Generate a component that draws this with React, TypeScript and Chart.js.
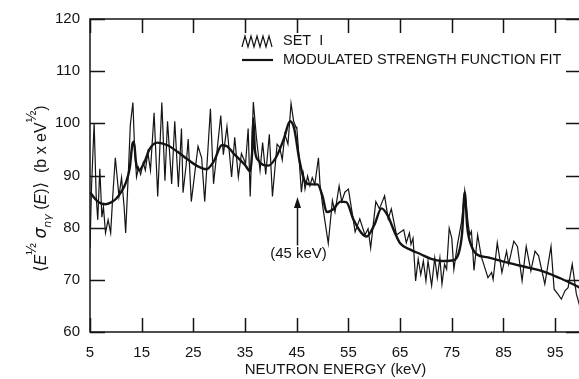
import React, { useEffect, useRef } from "react";
import { Chart, registerables } from "chart.js";

Chart.register(...registerables);

const xTicks = [5, 15, 25, 35, 45, 55, 65, 75, 85, 95];
const yTicks = [60, 70, 80, 90, 100, 110, 120];

const setKeV = [
  5.0, 5.3, 5.8, 6.2, 6.5, 6.9, 7.3, 7.6, 8.0, 8.5, 9.0, 9.4, 9.9, 10.6, 11.1, 11.6, 11.9, 12.4, 12.8, 13.3,
  13.6, 14.0, 14.4, 14.8, 15.3, 15.7, 16.2, 16.7, 17.4, 18.1, 18.9, 19.5, 20.0, 20.8, 21.4, 22.1, 22.7, 23.0, 23.6, 24.0,
  24.6, 25.9, 26.6, 27.2, 28.3, 28.9, 29.5, 30.3, 30.8, 31.5, 32.4, 33.0, 33.7, 34.3, 35.1, 35.6, 36.0, 36.6, 37.2, 37.9,
  38.4, 39.0, 39.7, 40.3, 41.2, 41.7, 42.2, 42.7, 43.3, 43.9, 44.4, 44.9, 45.0, 45.4, 45.9, 46.3, 46.6, 47.1, 47.55, 48.0,
  48.5, 49.2, 49.5, 50.1, 51.1, 51.9, 52.4, 53.2, 53.7, 54.3, 55.0, 55.6, 56.3, 57.2, 58.2, 58.8, 59.3, 60.3, 61.0, 62.0,
  62.7, 63.3, 64.3, 65.3, 65.7, 66.2, 66.8, 67.1, 67.5, 68.0, 68.5, 69.0, 69.5, 70.0, 70.4, 71.1, 71.7, 72.2, 72.7, 73.1,
  73.6, 74.0, 74.5, 75.0, 75.4, 76.1, 76.9, 77.5, 78.2, 78.5, 78.8, 79.3, 80.0, 80.7, 81.4, 82.0, 82.7, 83.0, 83.8, 84.7,
  85.6, 86.0, 87.0, 87.7, 88.6, 89.4, 90.3, 91.1, 91.8, 93.0, 94.2, 94.8, 95.5, 96.2, 96.9, 97.5, 98.3, 99.1, 99.8
];
const setVal = [
  76, 88, 100, 86, 81.5, 91.3, 82, 84, 79, 81.5, 79, 86, 93.4, 86, 89.6, 84, 79, 90, 99.7, 104,
  96, 89.7, 91.5, 90.2, 92.5, 91, 94.4, 91, 102, 86, 104, 89, 100.4, 88.4, 100.4, 87.8, 99, 86.7, 92, 97,
  85, 95.6, 93.4, 85, 102.8, 88.4, 94, 101.5, 94, 99.4, 89.7, 97.3, 89.7, 94.2, 92.3, 99, 86, 104.1, 97.3, 91,
  96.3, 90.2, 97.9, 86, 96, 95.4, 93, 97.9, 96, 103.8, 100.4, 99.1, 99.4, 94, 86.8, 90.2, 87.4, 89.9, 88, 89.6,
  88.3, 93.4, 88.3, 83.6, 77, 85.2, 83, 88, 85, 86.8, 87.4, 83.6, 79.2, 81.7, 78.6, 79.8, 76.1, 85, 83.6, 86.1,
  81.7, 83.6, 78.6, 79.3, 79.6, 77.1, 79, 76.8, 78, 69.8, 74, 71, 73.6, 69.8, 73.6, 68.9, 74.2, 70.4, 74.2, 69.2,
  73, 72, 79.9, 78, 72, 76.8, 81.2, 87.1, 80.5, 78.6, 79.3, 71.8, 78.6, 74.5, 72.3, 70.4, 71.4, 70.1, 77.1, 71.4,
  75.5, 73, 77.4, 76.4, 69.8, 76.4, 71.7, 75.5, 74.6, 69.2, 76.4, 68.2, 67.3, 66.3, 67.9, 68.5, 73, 67.3, 64.8
];

const fitKeV = [
  5, 6, 7, 8, 9, 10, 11, 12, 12.7, 13.2, 13.5, 13.9, 14.5, 15.5, 16.5, 18, 20, 22, 24, 26,
  27.5, 29, 30.5, 31.5, 33, 35, 36, 36.4, 36.6, 36.9, 37.5, 39.5, 41, 42.5, 43.7, 44.5, 45.5, 46.5, 47.5, 49,
  50, 50.8, 52, 53.5, 54.6, 56, 57.5, 58.5, 60, 61.4, 62.5, 64, 65, 67, 69, 71, 73, 75, 76.3, 77,
  77.5, 78, 78.8, 79.8, 82, 85, 87, 90, 93.3, 96, 99.4, 100
];
const fitVal = [
  86.8, 85.5, 84.7, 84.5, 84.8, 85.5, 86.8, 88.8, 91.5, 96, 96.5, 92.5, 91, 92.5, 95, 96.3, 95.8, 94.5, 93, 91.7,
  91.2, 92.8, 95.8, 95.6, 94, 92, 90.8, 95, 101, 95, 93, 91.9, 93.5, 97, 100.4, 99, 93, 89, 88.3, 88.3,
  86, 83, 83.5, 85, 84.9, 81.5, 79, 78.3, 80.5, 83.7, 82.5, 79, 77, 75.8, 74.9, 74, 73.6, 73.7, 75, 79,
  86.8, 80, 76.5, 74.9, 74.3, 73.5, 73, 72.3, 71.4, 70.3, 68.7, 68.4
];

const seriesLabels = ["SET  I", "MODULATED STRENGTH FUNCTION FIT"];
const xTitle = "NEUTRON ENERGY (keV)";
const arrowKeV = 45;
const arrowFrom = 76.6;
const arrowTo = 85.9;
const arrowLabel = "(45 keV)";
const arrowLabelVal = 74.9;

const INK = "#141414";
const FONT = "'Liberation Sans', Arial, sans-serif";

const decorPlugin = {
  id: "decor",
  afterDraw(chart: any) {
    const { ctx, chartArea, scales } = chart;
    const { left, right, top, bottom } = chartArea;
    const x = scales.x;
    const y = scales.y;
    ctx.save();
    ctx.strokeStyle = INK;
    ctx.fillStyle = INK;
    ctx.lineWidth = 1.5;
    ctx.strokeRect(left, top, right - left, bottom - top);
    ctx.beginPath();
    for (const v of xTicks) {
      const px = Math.round(x.getPixelForValue(v)) + 0.5;
      ctx.moveTo(px, bottom);
      ctx.lineTo(px, bottom - 14);
      ctx.moveTo(px, top);
      ctx.lineTo(px, top + 14);
    }
    for (const v of yTicks) {
      const py = Math.round(y.getPixelForValue(v)) + 0.5;
      ctx.moveTo(left, py);
      ctx.lineTo(left + 15, py);
      ctx.moveTo(right, py);
      ctx.lineTo(right - 15, py);
    }
    ctx.stroke();

    // legend
    const lx = 242;
    ctx.lineWidth = 1.2;
    ctx.beginPath();
    for (let i = 0; i <= 10; i++) {
      const px = lx + i * 3;
      const py = i % 2 === 0 ? 47 : 36;
      if (i === 0) ctx.moveTo(px, py);
      else ctx.lineTo(px, py);
    }
    ctx.stroke();
    ctx.lineWidth = 2.2;
    ctx.beginPath();
    ctx.moveTo(lx, 60);
    ctx.lineTo(lx + 31, 60);
    ctx.stroke();
    ctx.font = `14.5px ${FONT}`;
    ctx.textBaseline = "middle";
    ctx.textAlign = "left";
    ctx.fillText(seriesLabels[0], 283, 41);
    ctx.fillText(seriesLabels[1], 283, 60);

    // arrow annotation
    const ax = Math.round(x.getPixelForValue(arrowKeV)) + 0.5;
    const ay0 = y.getPixelForValue(arrowFrom);
    const ay1 = y.getPixelForValue(arrowTo);
    ctx.lineWidth = 1.5;
    ctx.beginPath();
    ctx.moveTo(ax, ay0);
    ctx.lineTo(ax, ay1 + 6);
    ctx.stroke();
    ctx.beginPath();
    ctx.moveTo(ax, ay1);
    ctx.lineTo(ax - 3.5, ay1 + 11);
    ctx.lineTo(ax + 3.5, ay1 + 11);
    ctx.closePath();
    ctx.fill();
    ctx.textAlign = "center";
    ctx.font = `15px ${FONT}`;
    ctx.fillText(arrowLabel, ax + 1, y.getPixelForValue(arrowLabelVal));

    // y-axis title
    ctx.save();
    ctx.translate(46, 272);
    ctx.rotate(-Math.PI / 2);
    ctx.textAlign = "left";
    ctx.textBaseline = "alphabetic";
    let cx = 0;
    const seg = (t: string, font: string, dy: number) => {
      ctx.font = font;
      ctx.fillText(t, cx, dy);
      cx += ctx.measureText(t).width;
    };
    seg("\u27E8", "17px 'DejaVu Sans'", 0);
    seg("E", `italic 16px ${FONT}`, 0);
    seg("\u00BD", `14px ${FONT}`, -10);
    seg(" ", `16px ${FONT}`, 0);
    seg("\u03C3", `italic 17px 'DejaVu Sans'`, 0);
    seg("n\u03B3", `italic 11px 'DejaVu Sans'`, 5);
    seg(" (", `16px ${FONT}`, 0);
    seg("E", `italic 16px ${FONT}`, 0);
    seg(")", `16px ${FONT}`, 0);
    seg("\u27E9", "17px 'DejaVu Sans'", 0);
    seg("  (b x eV", `16px ${FONT}`, 0);
    seg("\u00BD", `14px ${FONT}`, -10);
    seg(")", `16px ${FONT}`, 0);
    ctx.restore();

    ctx.restore();
  },
};

export default function App() {
  const ref = useRef<HTMLCanvasElement | null>(null);
  useEffect(() => {
    if (!ref.current) return;
    const setData = setKeV.map((k, i) => ({ x: k, y: setVal[i] }));
    const fitData = fitKeV.map((k, i) => ({ x: k, y: fitVal[i] }));
    const chart = new Chart(ref.current, {
      type: "line",
      data: {
        datasets: [
          {
            label: seriesLabels[0],
            data: setData,
            borderColor: INK,
            borderWidth: 1.2,
            pointRadius: 0,
            tension: 0,
            fill: false,
          },
          {
            label: seriesLabels[1],
            data: fitData,
            borderColor: INK,
            borderWidth: 2.4,
            pointRadius: 0,
            cubicInterpolationMode: "monotone",
            fill: false,
          },
        ],
      },
      options: {
        responsive: false,
        animation: false,
        devicePixelRatio: 1,
        layout: { padding: { top: 13, right: 3, left: 0, bottom: 0 } },
        plugins: { legend: { display: false }, tooltip: { enabled: false }, title: { display: false } },
        scales: {
          x: {
            type: "linear",
            min: 5,
            max: 100,
            grid: { display: false, drawTicks: false },
            border: { display: false },
            afterBuildTicks: (s: any) => {
              s.ticks = xTicks.map((v) => ({ value: v }));
            },
            afterFit: (s: any) => {
              s.height = 47;
            },
            ticks: {
              padding: 12,
              color: INK,
              font: { family: FONT, size: 15 },
              maxRotation: 0,
              autoSkip: false,
              callback: (v: any) => String(v),
            },
            title: {
              display: true,
              text: xTitle,
              color: INK,
              font: { family: FONT, size: 15 },
              padding: { top: 0, bottom: 0 },
            },
          },
          y: {
            type: "linear",
            min: 60,
            max: 120,
            grid: { display: false, drawTicks: false },
            border: { display: false },
            afterBuildTicks: (s: any) => {
              s.ticks = yTicks.map((v) => ({ value: v }));
            },
            afterFit: (s: any) => {
              s.width = 90;
            },
            ticks: {
              padding: 10,
              color: INK,
              font: { family: FONT, size: 15 },
              callback: (v: any) => String(v),
            },
          },
        },
      },
      plugins: [decorPlugin],
    });
    return () => chart.destroy();
  }, []);
  return (
    <div
      style={{
        position: "fixed",
        left: 0,
        top: 0,
        width: 579,
        height: 379,
        overflow: "hidden",
        background: "#fff",
      }}
    >
      <canvas ref={ref} width={584} height={379} style={{ display: "block", width: 584, height: 379 }} />
    </div>
  );
}
